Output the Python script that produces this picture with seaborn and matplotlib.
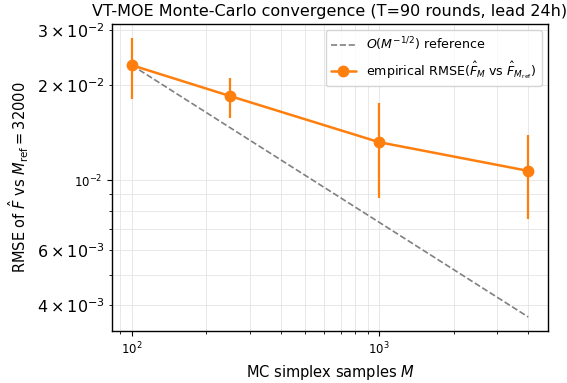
import matplotlib
matplotlib.use('Agg')
import matplotlib.pyplot as plt
import seaborn as sns
import pandas as pd

m_samples = [100, 250, 1000, 4000]
rmse_mean = [0.0232, 0.0185, 0.0132, 0.0107]
rmse_err = [0.0051, 0.0027, 0.0044, 0.0032]
# O(M^-1/2) reference anchored at the first point
ref_vals = [0.0232, 0.01467, 0.00734, 0.00367]

df = pd.DataFrame({'M': m_samples, 'rmse': rmse_mean, 'err': rmse_err, 'ref': ref_vals})

sns.set_style('ticks')
plt.rcParams['font.family'] = ['DejaVu Sans']
plt.rcParams.update({'text.color': 'black', 'axes.labelcolor': 'black',
                     'xtick.color': 'black', 'ytick.color': 'black'})

fig, ax = plt.subplots(figsize=(5.67, 3.83), dpi=100)
fig.subplots_adjust(left=0.1975, right=0.9665, top=0.937, bottom=0.136)

sns.lineplot(data=df, x='M', y='ref', ax=ax, color='gray', linestyle='--',
             linewidth=1.2, label=r'$O(M^{-1/2})$ reference')
sns.lineplot(data=df, x='M', y='rmse', ax=ax, color='#ff7f0e', linewidth=1.8,
             marker='o', markersize=8.5, markeredgewidth=0,
             label=r'empirical RMSE($\hat{F}_M$ vs $\hat{F}_{M_{\rm ref}}$)')
ax.errorbar(df['M'], df['rmse'], yerr=df['err'], fmt='none',
            ecolor='#ff7f0e', elinewidth=1.6, capsize=0)

ax.set_xscale('log')
ax.set_yscale('log')
ax.grid(True, which='both', color='#e4e4e4', linewidth=0.6)

for s in ax.spines.values():
    s.set_visible(True)
    s.set_color('black')
    s.set_linewidth(1.0)

ax.tick_params(axis='both', which='major', labelsize=8.5)
ax.tick_params(axis='y', which='minor', labelsize=11.5)

ax.set_xlabel(r'MC simplex samples $M$', fontsize=10.5)
ax.set_ylabel(r'RMSE of $\hat{F}$ vs $M_{\rm ref} = 32000$', fontsize=10.5)
ax.set_title('VT-MOE Monte-Carlo convergence (T=90 rounds, lead 24h)', fontsize=11.5)
ax.legend(loc='upper right', fontsize=9.1, frameon=True, edgecolor='#cccccc')

plt.savefig('out.png', dpi=100)
